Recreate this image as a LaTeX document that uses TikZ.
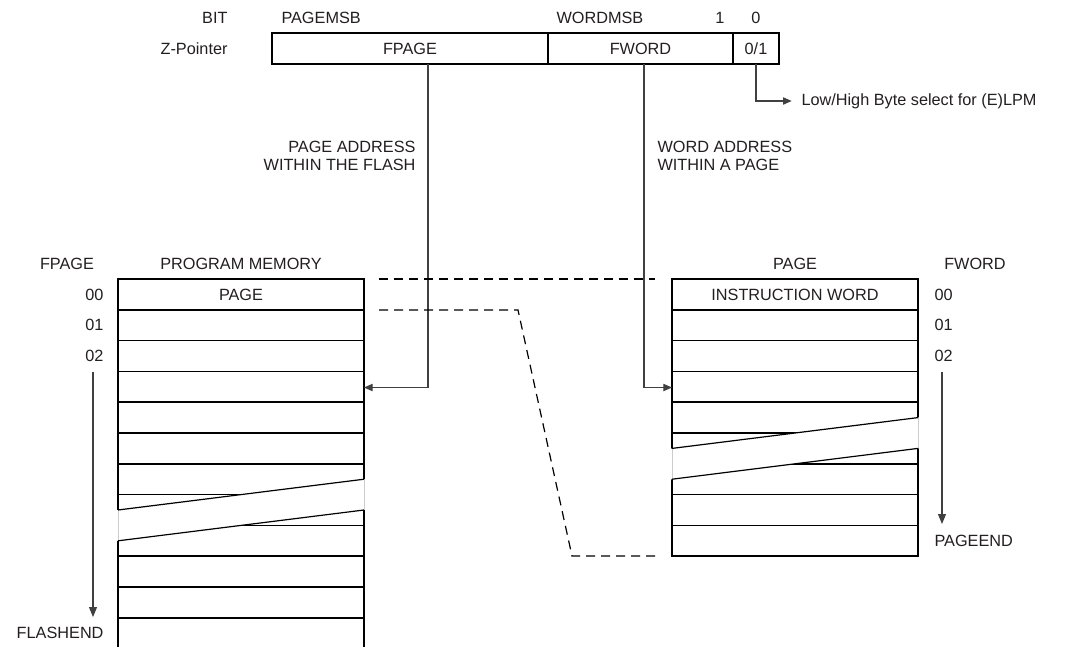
\documentclass[tikz,border=0pt]{standalone}
\usepackage{fontspec}
\setmainfont{Liberation Sans}
\usetikzlibrary{arrows.meta, calc}
\definecolor{avrInk}{HTML}{231F20}
\definecolor{avrWire}{HTML}{404040}
\tikzset{
  % thin default lines, small solid tips as in the data sheet figure
  every picture/.append style = {line width=0.75pt, >={Triangle[length=6.5pt, width=5.5pt]}},
  cell/.style     = {draw=black, line width=1.1pt},
  wire/.style     = {avrWire, line width=0.8pt, ->},
  span/.style     = {avrWire, line width=0.8pt, -{Triangle[length=7.5pt, width=6pt]}},
  pagelink/.style = {black, line width=0.9pt, dash pattern=on 6.75pt off 4.5pt},
  lbl/.style      = {avrInk, inner sep=0pt, font=\fontsize{12.2}{12.8}\selectfont},
  cutfill/.style  = {fill=white, draw=none},
  cutedge/.style  = {black, line width=0.9pt},
  cutgap/.style   = {black!20, line width=0.6pt},
}

\begin{document}
\begin{tikzpicture}[x=0.75pt, y=-0.75pt]
  \useasboundingbox (0,0) rectangle (1065,647);
  % Z-pointer register
  \node[lbl, anchor=base east] (bitlbl) at (228,23) {BIT};
  \node[lbl, anchor=base west] (pagemsb) at (281,23) {PAGEMSB};
  \node[lbl, anchor=base west] (wordmsb) at (556,23) {WORDMSB};
  \node[lbl, anchor=base] (bitone) at (720,23) {1};
  \node[lbl, anchor=base] (bitzero) at (756,23) {0};
  \node[lbl, anchor=base east] (zptrlbl) at (228,54.3) {Z-Pointer};
  \draw[cell] (272,33) rectangle (779,64);
  \draw[cell] (548,33) -- (548,64) (733,33) -- (733,64);
  \node[lbl, anchor=base] (fpagef) at (410,54.3) {FPAGE};
  \node[lbl, anchor=base] (fwordf) at (640.5,54.3) {FWORD};
  \node[lbl, anchor=base] (bytef) at (756,54.3) {0/1};
  \node[lbl, anchor=west] (bytesel) at (801,101) {Low/High Byte select for (E)LPM};
  \node[lbl, anchor=base east, align=right] (pageaddr) at (416,170)
    {PAGE ADDRESS\\WITHIN THE FLASH};
  \node[lbl, anchor=base west, align=left] (wordaddr) at (657,170)
    {WORD ADDRESS\\WITHIN A PAGE};

  % program memory
  \node[lbl, anchor=base] (fpagehd) at (67,269) {FPAGE};
  \node[lbl, anchor=base] (pgmhd) at (241,269) {PROGRAM MEMORY};
  \foreach \r in {0,...,10}
    \draw[cell] (118,279+30.8*\r) rectangle ++(246,30.8);
  \draw[cell] (118,617.8) -- (118,647) (364,617.8) -- (364,647);
  \fill[cutfill] (116,510.2) -- (366,478.9) -- (366,509.7) -- (116,541) -- cycle;
  \draw[cutgap] (118,510) -- (118,540.8) (364,479.2) -- (364,510);
  \draw[cutedge] (118,510) -- (364,479.2) (118,540.8) -- (364,510);
  \node[lbl, anchor=base] (pgmpage) at (241,300) {PAGE};
  \foreach \r/\t in {0/00,1/01,2/02}
    \node[lbl, anchor=base east] (pgm\t) at (104,300+30.8*\r) {\t};
  \node[lbl, anchor=base east] (flashend) at (104,638) {FLASHEND};
  \coordinate (pgmrun) at (93,372);
  \coordinate (pgmstop) at (93,617);
  \draw[span] (pgmrun) -- (pgmstop);

  % one page
  \node[lbl, anchor=base] (pagehd) at (795,269) {PAGE};
  \node[lbl, anchor=base] (fwordhd) at (975,269) {FWORD};
  \foreach \r in {0,...,8}
    \draw[cell] (672,279+30.8*\r) rectangle ++(246,30.8);
  \fill[cutfill] (670,448.7) -- (920,417.3) -- (920,448.1) -- (670,479.5) -- cycle;
  \draw[cutgap] (672,448.4) -- (672,479.2) (918,417.6) -- (918,448.4);
  \draw[cutedge] (672,448.4) -- (918,417.6) (672,479.2) -- (918,448.4);
  \node[lbl, anchor=base] (pageword) at (795,300) {INSTRUCTION WORD};
  \foreach \r/\t in {0/00,1/01,2/02}
    \node[lbl, anchor=base west] (page\t) at (934,300+30.8*\r) {\t};
  \node[lbl, anchor=base west] (pageend) at (934,546) {PAGEEND};
  \coordinate (pagerun) at (942,372);
  \coordinate (pagestop) at (942,524);
  \draw[span] (pagerun) -- (pagestop);

  % pointer fields into memory
  \coordinate (fpagetap) at (428,64);
  \coordinate (fwordtap) at (644,64);
  \coordinate (bytetap) at (756,64);
  \coordinate (pgmrow3) at (364,387.5);
  \coordinate (pagerow3) at (672,387.5);
  \draw[wire] (fpagetap) |- (pgmrow3);
  \draw[wire] (fwordtap) |- (pagerow3);
  \draw[wire] (bytetap) |- ([xshift=-7pt]bytesel.west);

  % page boundaries
  \coordinate (pgtopl) at (379,279);
  \coordinate (pgtopr) at (655,279);
  \coordinate (pgbotl) at (379,310);
  \coordinate (pgbend) at (518,310);
  \coordinate (pgdrop) at (572,556);
  \coordinate (pgbotr) at (657,556);
  \draw[pagelink] (pgtopl) -- (pgtopr);
  \draw[pagelink] (pgbotl) -- (pgbend) -- (pgdrop) -- (pgbotr);
\end{tikzpicture}
\end{document}
